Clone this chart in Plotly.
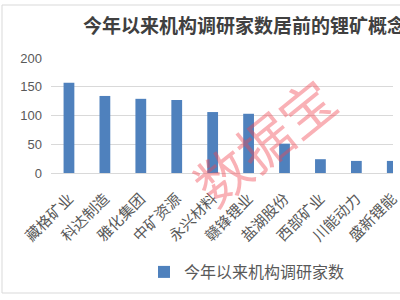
import plotly.graph_objects as go

categories = ["藏格矿业", "科达制造", "雅化集团", "中矿资源", "永兴材料", "赣锋锂业",
              "盐湖股份", "西部矿业", "川能动力", "盛新锂能", "天齐锂业"]
values = [157, 134, 129, 127, 106, 103, 51, 24, 21, 21, 20]
series_name = "今年以来机构调研家数"
title_text = "今年以来机构调研家数居前的锂矿概念股"
y_ticks = [0, 50, 100, 150, 200]

W, H = 400, 300
L, T, B = 51, 58, 127
plot_w = W - L
plot_h = H - T - B

def px_x(px):
    return (px - L) / plot_w

def px_y(py):
    return (H - B - py) / plot_h

fig = go.Figure()
fig.add_trace(go.Bar(
    x=categories, y=values, name=series_name,
    marker=dict(color="#4F81BD", line=dict(width=0)),
    showlegend=True,
))

font_cjk = "Noto Sans CJK SC, Microsoft YaHei, sans-serif"

fig.update_layout(
    width=W, height=H,
    margin=dict(l=L, r=0, t=T, b=B),
    paper_bgcolor="white", plot_bgcolor="white",
    bargap=0.7,
    font=dict(family=font_cjk, color="#595959"),
    title=dict(text="<b>" + title_text + "</b>", x=254 / W, xref="container",
               xanchor="center", y=1 - 26 / H, yref="container", yanchor="middle",
               font=dict(size=19, color="#404040", family=font_cjk)),
    xaxis=dict(type="category", range=[-0.5, 9.02],
               tickangle=-45, tickfont=dict(size=15, color="#595959"),
               showgrid=False, showline=True, linecolor="#D9D9D9", linewidth=1,
               ticks="", ticklabelstandoff=10),
    yaxis=dict(range=[0, 200], tickvals=y_ticks, showgrid=True, gridcolor="#D9D9D9",
               gridwidth=1, zeroline=False, showline=False,
               tickfont=dict(size=13, color="#595959", family="Liberation Sans, Arial, sans-serif"),
               ticks="", ticklabelstandoff=8),
    legend=dict(orientation="h", x=px_x(251), y=px_y(272), xanchor="center",
                yanchor="middle", font=dict(size=16, color="#595959"),
                bgcolor="rgba(0,0,0,0)"),
    shapes=[dict(type="rect", xref="paper", yref="paper",
                 x0=px_x(1), x1=px_x(520), y0=px_y(293), y1=px_y(5),
                 line=dict(color="#D9D9D9", width=1), fillcolor="rgba(0,0,0,0)",
                 layer="below")],
    annotations=[dict(text="数据宝", xref="paper", yref="paper",
                      x=px_x(267), y=px_y(140), xanchor="center", yanchor="middle",
                      showarrow=False, textangle=-39,
                      font=dict(size=54, color="rgba(240,70,80,0.42)", family=font_cjk))],
)

fig.write_html("out.html")
